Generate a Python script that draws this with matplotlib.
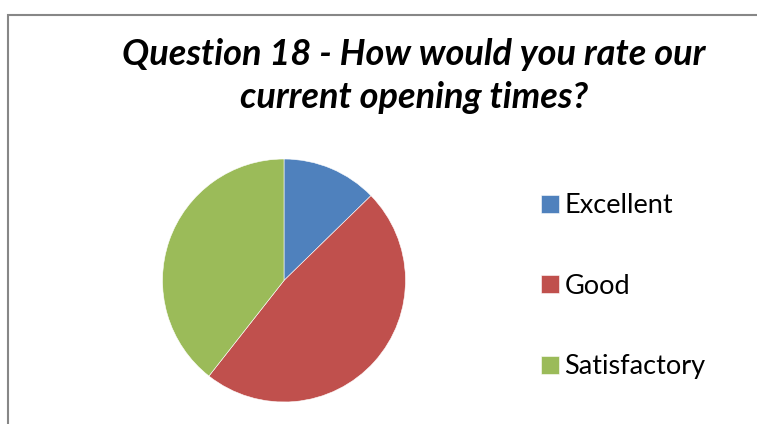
import matplotlib.pyplot as plt
from matplotlib.patches import Rectangle

categorias = ["Excellent", "Good", "Satisfactory"]
porcentajes = [12.7, 47.9, 39.4]
colores = ["#4F81BD", "#C0504D", "#9BBB59"]

titulo = "Question 18 - How would you rate our\ncurrent opening times?"

ancho, alto = 757, 424
fig = plt.figure(figsize=(ancho / 100, alto / 100), dpi=100)

# marco gris del grafico
marco = Rectangle((7.5 / ancho, -0.1), 1.2, (alto - 15) / alto + 0.1,
                  transform=fig.transFigure, fill=False,
                  edgecolor="#878787", linewidth=1.5)
fig.patches.append(marco)

ax = fig.add_axes([162.5 / ancho, 22 / alto, 243 / ancho, 243 / alto])
cunas, _ = ax.pie(porcentajes, colors=colores, startangle=90,
                  counterclock=False,
                  wedgeprops=dict(edgecolor="white", linewidth=0.4))
ax.set_xlim(-1, 1)
ax.set_ylim(-1, 1)
ax.set_aspect("equal")

fig.text(414 / ancho, 1 - 76 / alto, titulo, ha="center", va="center",
         fontsize=26, fontweight="bold", fontstyle="italic",
         family="Lato", linespacing=1.4)

fig.legend(cunas, categorias, loc="upper left",
           bbox_to_anchor=(517 / ancho, 1 - 169 / alto),
           frameon=False, prop=dict(family="Lato", size=19.5),
           handlelength=0.65, handleheight=0.65, handletextpad=0.2,
           labelspacing=2.05)

fig.savefig("out.png", dpi=100)
